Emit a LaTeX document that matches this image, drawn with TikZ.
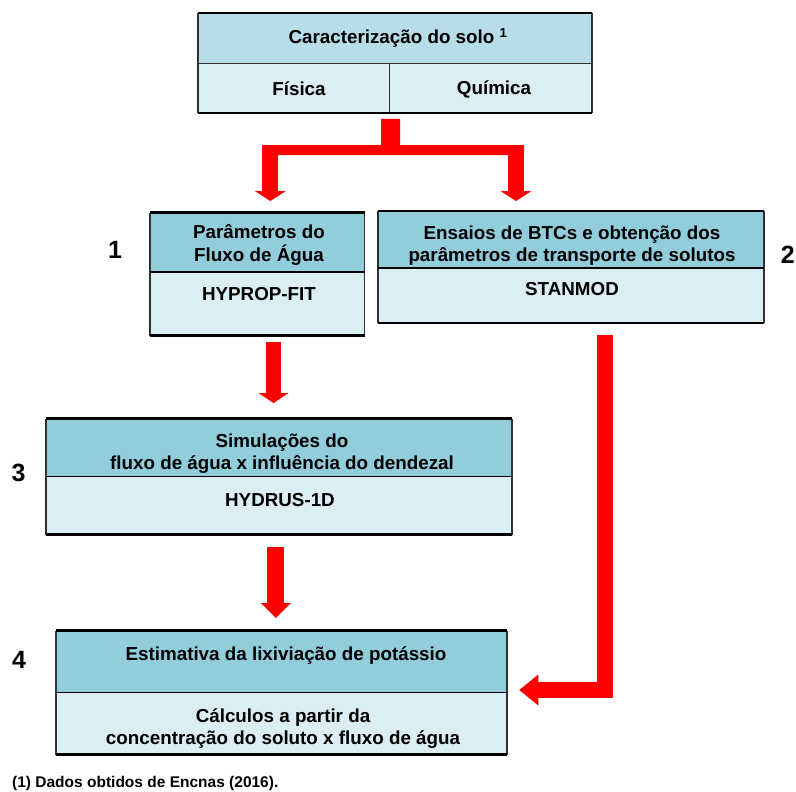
\documentclass[tikz,border=0pt]{standalone}
\usepackage{fontspec}
\setmainfont{Liberation Sans}
\usetikzlibrary{arrows.meta,calc}
\definecolor{hdrA}{HTML}{B7DDE8}
\definecolor{hdrB}{HTML}{92CDDC}
\definecolor{bodyC}{HTML}{DAEEF3}
\definecolor{arrred}{HTML}{FF0000}
\definecolor{sidegray}{HTML}{303030}
\newcommand\mkbox[6]{%
  \node[cell, fill=hdrB, minimum width=#4pt, minimum height=#5pt] (#1h) at (#2,#3) {};
  \node[cell, fill=bodyC, minimum width=#4pt, minimum height=#6pt] (#1b) at (#1h.south west) {};
  \draw[vline] (#1h.north west) -- (#1b.south west) (#1h.north east) -- (#1b.south east);
  \draw[sepline] (#1h.south west) -- (#1h.south east);
  \draw[hline] (#1h.north west) -- (#1h.north east) (#1b.south west) -- (#1b.south east);
}
\begin{document}
\begin{tikzpicture}[x=1pt,y=-1pt,
  cell/.style={draw=none, inner sep=0pt, outer sep=0pt, anchor=north west, rectangle},
  txt/.style={font=\bfseries\fontsize{18.8}{22.5}\selectfont, align=center, inner sep=0pt},
  num/.style={font=\bfseries\fontsize{25}{25}\selectfont, inner sep=0pt},
  foot/.style={font=\bfseries\fontsize{15.5}{18}\selectfont, inner sep=0pt, anchor=west},
  hline/.style={line width=2.5pt, black},
  sepline/.style={line width=1.5pt, black},
  vline/.style={line width=1.2pt, sidegray},
  blk/.style={arrred}]
\useasboundingbox (0,0) rectangle (796,792);
\fill[white] (0,0) rectangle (796,792);

% top table
\node[cell, fill=hdrA, minimum width=394pt, minimum height=50pt] (Th) at (198,13) {};
\node[cell, fill=bodyC, minimum width=394pt, minimum height=50pt] (Tb) at (Th.south west) {};
\coordinate (Tdiv) at (389,0);
\draw[line width=0.8pt, sidegray] (Tdiv |- Tb.north) -- (Tdiv |- Tb.south);
\draw[line width=0.8pt, sidegray] (Th.south west) -- (Th.south east);
\draw[vline] (Th.north west) -- (Tb.south west) (Th.north east) -- (Tb.south east);
\draw[line width=1.5pt, black] (Th.north west) -- (Th.north east);
\draw[hline] (Tb.south west) -- (Tb.south east);
\node[txt] (t0) at (398,38) {Caracterização do solo \textsuperscript{1}};
\node[txt] (t1) at (299,89) {Física};
\node[txt] (t2) at (494,89) {Química};

% boxes
\mkbox{B1}{150}{212.5}{214.5}{59.5}{63.5}
\mkbox{B2}{378}{211}{386}{57}{55}
\mkbox{B3}{46}{418.5}{466}{58}{58}
\mkbox{B4}{56}{630.5}{451}{62}{62}

\node[txt] (b1t) at (259,245) {Parâmetros do\\Fluxo de Água};
\node[txt] (b1s) at (259,294) {HYPROP-FIT};
\node[txt] (b2t) at (572,245.5) {Ensaios de BTCs e obtenção dos\\parâmetros de transporte de solutos};
\node[txt] (b2s) at (572,289) {STANMOD};
\node[txt] (b3t) at (282,453.5) {Simulações do\\fluxo de água x influência do dendezal};
\node[txt] (b3s) at (280,500) {HYDRUS-1D};
\node[txt] (b4t) at (286,656) {Estimativa da lixiviação de potássio};
\node[txt] (b4s) at (283,728.5) {Cálculos a partir da\\concentração do soluto x fluxo de água};

\node[num] (n1) at (115,250) {1};
\node[num, anchor=east] (n2) at (795,255) {2};
\node[num] (n3) at (18.5,472.5) {3};
\node[num] (n4) at (19,660) {4};

\node[foot] (fn) at (12,783) {(1) Dados obtidos de Encnas (2016).};

% red arrows
\coordinate (lb) at (270.3,150);
\coordinate (rb) at (516,150);
\fill[blk] (381,119) -- (400,119) -- (400,145) -- (524,145) -- (524,155) -- (262,155) -- (262,145) -- (381,145) -- cycle;
\draw[blk, line width=16pt, -{Triangle[width=31pt,length=10pt,line width=0pt]}, shorten >=11.5pt] (lb) -- (lb |- B1h.north);
\draw[blk, line width=16pt, -{Triangle[width=31pt,length=10pt,line width=0pt]}, shorten >=10pt] (rb) -- (rb |- B2h.north);

\coordinate (xA) at (273.5,0);
\draw[blk, line width=15pt, -{Triangle[width=30pt,length=10pt,line width=0pt]}, shorten <=6.7pt, shorten >=15.5pt] (xA |- B1b.south) -- (xA |- B3h.north);

\coordinate (xB) at (275.8,0);
\draw[blk, line width=17pt, -{Triangle[width=30pt,length=15pt,line width=0pt]}, shorten <=12.2pt, shorten >=12.5pt] (xB |- B3b.south) -- (xB |- B4h.north);

\coordinate (xC) at (604.7,0);
\coordinate (yC) at (0,690);
\draw[blk, line width=16pt, line join=miter, -{Triangle[width=31pt,length=19pt,line width=0pt]}, shorten <=12pt, shorten >=12.3pt] (xC |- B2b.south) |- (B4h.east |- yC);
\end{tikzpicture}
\end{document}
